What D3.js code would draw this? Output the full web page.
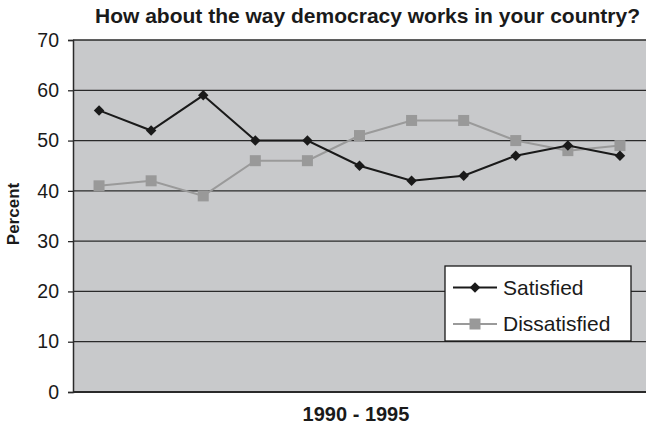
<!DOCTYPE html>
<html>
<head>
<meta charset="utf-8">
<script src="https://cdn.jsdelivr.net/npm/d3@7"></script>
<style>
  html, body { margin: 0; padding: 0; background: #fff; }
  svg { display: block; font-family: Arial, "Liberation Sans", sans-serif; }
</style>
</head>
<body>
<svg id="chart" width="646" height="427"></svg>
<script>
// Survey waves, 1990 - 1995
const periods = ["W1","W2","W3","W4","W5","W6","W7","W8","W9","W10","W11"];
const satisfied    = [56, 52, 59, 50, 50, 45, 42, 43, 47, 49, 47];
const dissatisfied = [41, 42, 39, 46, 46, 51, 54, 54, 50, 48, 49];
const yTicks = [0, 10, 20, 30, 40, 50, 60, 70];
const seriesNames = ["Satisfied", "Dissatisfied"];

const svg = d3.select("#chart");
const plot = { left: 73, right: 646, top: 40, bottom: 392 };

const x = d3.scalePoint().domain(periods).range([plot.left, plot.right]).padding(0.5);
const y = d3.scaleLinear().domain([0, 70]).range([plot.bottom, plot.top]);

// plot background
svg.append("rect")
  .attr("x", plot.left).attr("y", plot.top)
  .attr("width", plot.right - plot.left).attr("height", plot.bottom - plot.top)
  .attr("fill", "#c8c9cb");

// horizontal gridlines
svg.append("g").selectAll("line").data(yTicks.filter(d => d > 0)).join("line")
  .attr("x1", plot.left).attr("x2", plot.right)
  .attr("y1", d => y(d)).attr("y2", d => y(d))
  .attr("stroke", "#2a2a2a").attr("stroke-width", 1.3);

// y axis
const yAxis = svg.append("g")
  .attr("transform", `translate(${plot.left},0)`)
  .call(d3.axisLeft(y).tickValues(yTicks).tickSize(5).tickPadding(9));
yAxis.select(".domain").attr("stroke", "#2a2a2a").attr("stroke-width", 1.5);
yAxis.selectAll(".tick line").attr("stroke", "#2a2a2a").attr("stroke-width", 1.3);
yAxis.selectAll(".tick text").attr("font-size", 19.5).attr("fill", "#1a1a1a")
  .attr("font-family", "Arial, 'Liberation Sans', sans-serif");

// bottom baseline
svg.append("line")
  .attr("x1", plot.left).attr("x2", plot.right)
  .attr("y1", y(0)).attr("y2", y(0))
  .attr("stroke", "#2a2a2a").attr("stroke-width", 1.8);

const line = d3.line().x((d, i) => x(periods[i])).y(d => y(d));
const diamond = d3.symbol().type(d3.symbolDiamond2).size(70);

// Dissatisfied series (grey squares)
svg.append("path").datum(dissatisfied)
  .attr("d", line).attr("fill", "none")
  .attr("stroke", "#9a9a9a").attr("stroke-width", 2);
svg.append("g").selectAll("rect").data(dissatisfied).join("rect")
  .attr("x", (d, i) => x(periods[i]) - 5.5).attr("y", d => y(d) - 5.5)
  .attr("width", 11).attr("height", 11).attr("fill", "#999999");

// Satisfied series (black diamonds)
svg.append("path").datum(satisfied)
  .attr("d", line).attr("fill", "none")
  .attr("stroke", "#1a1a1a").attr("stroke-width", 2);
svg.append("g").selectAll("path").data(satisfied).join("path")
  .attr("d", diamond)
  .attr("transform", (d, i) => `translate(${x(periods[i])},${y(d)})`)
  .attr("fill", "#1a1a1a");

// legend
const lg = svg.append("g").attr("transform", "translate(445,266)");
lg.append("rect").attr("width", 186).attr("height", 75)
  .attr("fill", "#fff").attr("stroke", "#1a1a1a").attr("stroke-width", 1.3);
seriesNames.forEach((name, i) => {
  const cy = 21.5 + i * 36.5;
  const g = lg.append("g").attr("transform", `translate(0,${cy})`);
  g.append("line").attr("x1", 8).attr("x2", 52)
    .attr("stroke", i === 0 ? "#1a1a1a" : "#9a9a9a").attr("stroke-width", 2);
  if (i === 0) {
    g.append("path").attr("d", diamond).attr("transform", "translate(30,0)").attr("fill", "#1a1a1a");
  } else {
    g.append("rect").attr("x", 24.5).attr("y", -5.5).attr("width", 11).attr("height", 11).attr("fill", "#999999");
  }
  g.append("text").attr("x", 58).attr("y", 7)
    .attr("font-size", 21).attr("fill", "#1a1a1a").text(name);
});

// title
svg.append("text")
  .attr("x", 367.5).attr("y", 23).attr("text-anchor", "middle")
  .attr("font-size", 21).attr("font-weight", "bold").attr("fill", "#1a1a1a")
  .text("How about the way democracy works in your country?");

// axis titles
svg.append("text")
  .attr("transform", "translate(19,214) rotate(-90)")
  .attr("text-anchor", "middle")
  .attr("font-size", 17).attr("font-weight", "bold").attr("fill", "#1a1a1a")
  .text("Percent");

svg.append("text")
  .attr("x", 356).attr("y", 421).attr("text-anchor", "middle")
  .attr("font-size", 20).attr("font-weight", "bold").attr("fill", "#1a1a1a")
  .text("1990 - 1995");
</script>
</body>
</html>
